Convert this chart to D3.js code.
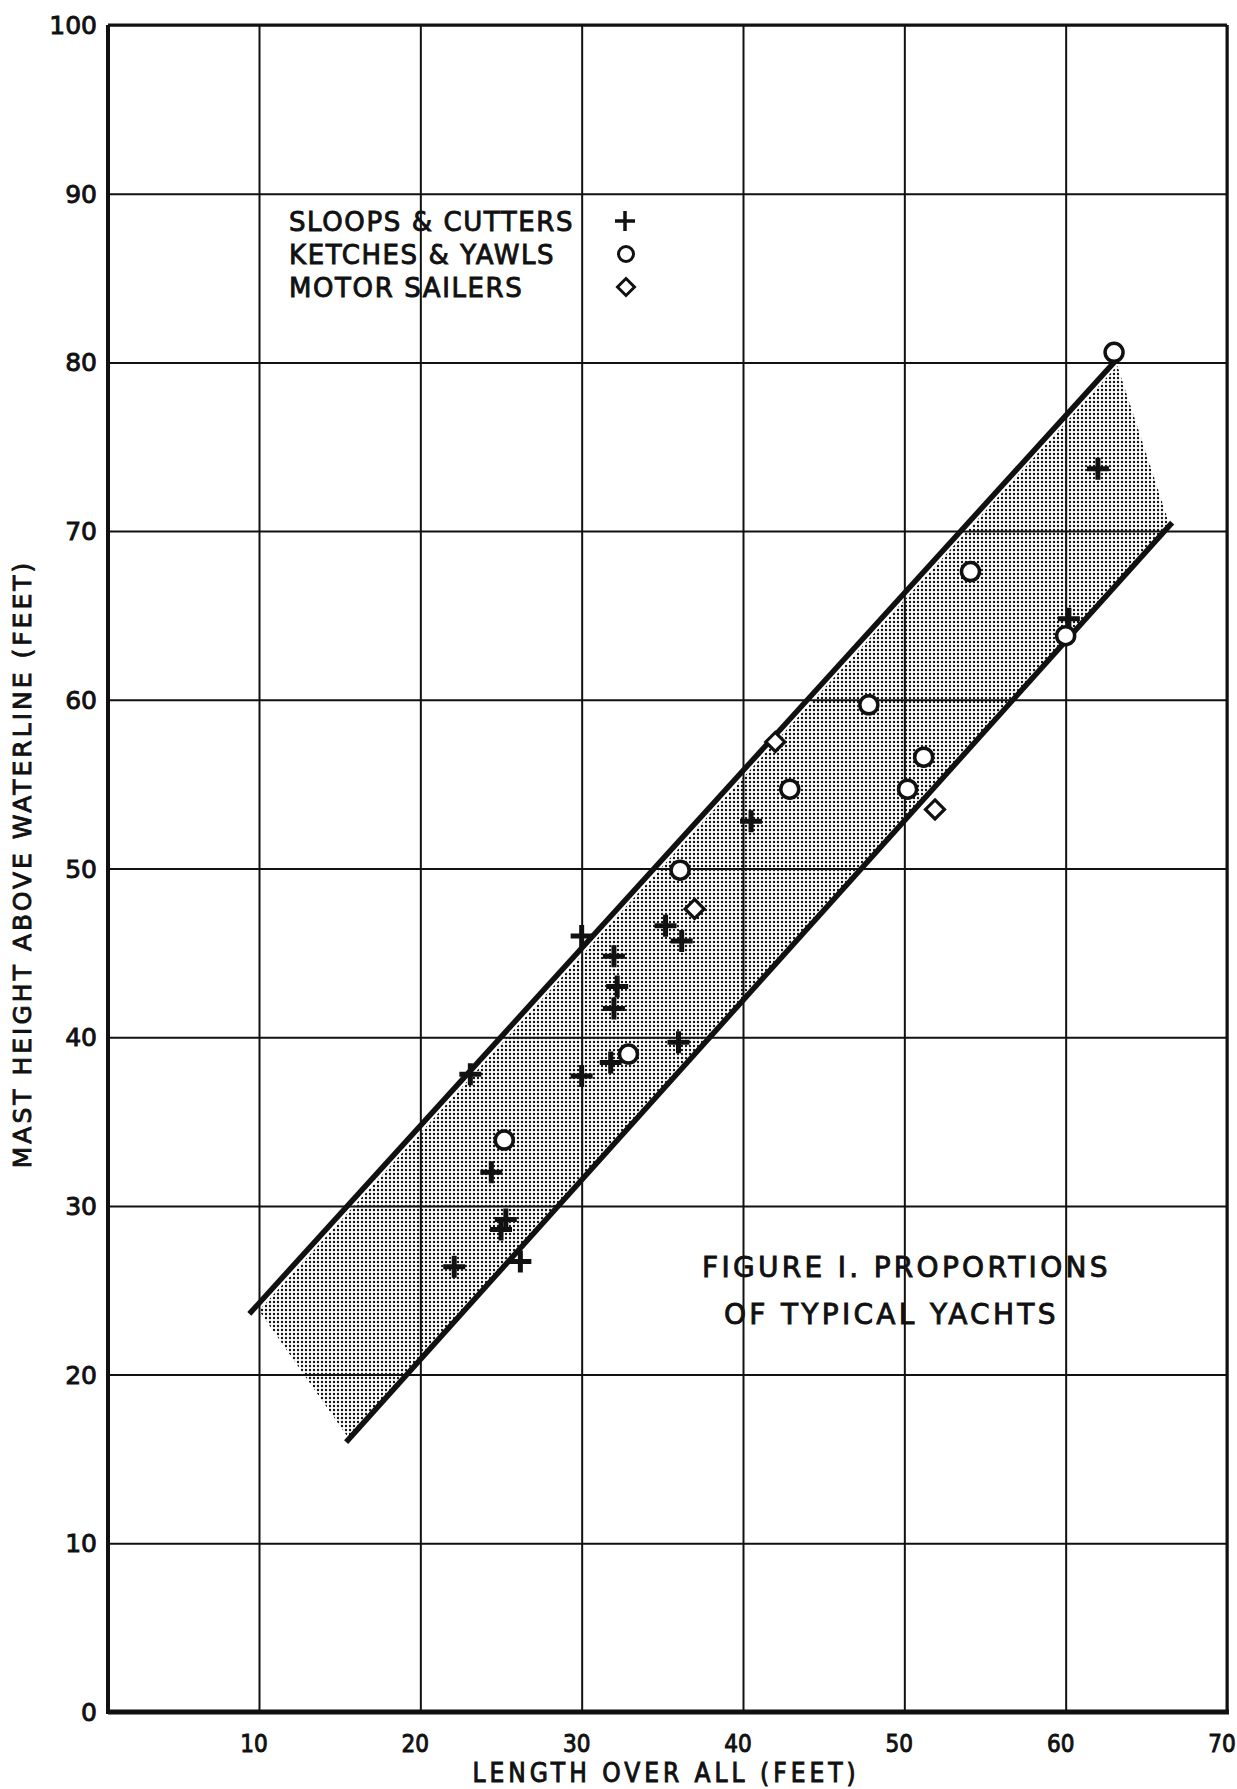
<!DOCTYPE html>
<html>
<head>
<meta charset="utf-8">
<script src="https://cdn.jsdelivr.net/npm/d3@7"></script>
<style>
  html, body { margin: 0; padding: 0; background: #fff; }
  text { font-family: "DejaVu Sans", sans-serif; fill: #111; stroke: #111; stroke-width: 0.9px; }
</style>
</head>
<body>
<div id="chart"></div>
<script>
// values: [length over all, mast height] in feet
const sloops = [
  [23.1, 37.8], [24.4, 32.0], [25.0, 28.6], [25.3, 29.2], [22.1, 26.4],
  [26.2, 26.7], [30.0, 46.0], [30.0, 37.7], [32.0, 44.8], [32.2, 43.0],
  [32.0, 41.7], [31.8, 38.5], [35.2, 46.6], [36.2, 45.7], [36.0, 39.7],
  [40.5, 52.8], [60.2, 64.8], [62.0, 73.7]
];
const ketches = [
  [25.2, 33.9], [32.9, 39.0], [36.1, 49.9], [42.9, 54.7], [47.8, 59.7],
  [50.2, 54.7], [51.2, 56.6], [54.1, 67.6], [60.0, 63.8], [63.0, 80.6]
];
const motorSailers = [[37.0, 47.6], [42.0, 57.5], [51.9, 53.5]];

// the two limit lines of the band and the stippled area between them
const upperLine = [[9.4, 23.6], [63.0, 80.0]];
const lowerLine = [[15.4, 16.0], [66.6, 70.5]];
const shadedArea = [[10.0, 23.8], [63.2, 79.8], [66.4, 70.5], [15.5, 16.3]];

const xTicks = [10, 20, 30, 40, 50, 60, 70];
const yTicks = [0, 10, 20, 30, 40, 50, 60, 70, 80, 90, 100];

const legendItems = ['SLOOPS & CUTTERS', 'KETCHES & YAWLS', 'MOTOR SAILERS'];
const titleLines = ['FIGURE I. PROPORTIONS', 'OF TYPICAL YACHTS'];

const W = 1237, H = 1789;
const m = {left: 108, right: 1227, top: 25, bottom: 1712};

const x = d3.scaleLinear().domain([0.64, 70]).range([m.left, m.right]);
const y = d3.scaleLinear().domain([0, 100]).range([m.bottom, m.top]);

const svg = d3.select('#chart').append('svg')
  .attr('width', W).attr('height', H)
  .style('display', 'block');

svg.append('rect').attr('width', W).attr('height', H).attr('fill', '#fff');

// stipple for the shaded band
const defs = svg.append('defs');
const pat = defs.append('pattern')
  .attr('id', 'stipple').attr('patternUnits', 'userSpaceOnUse')
  .attr('width', 4).attr('height', 4);
pat.append('circle').attr('cx', 2).attr('cy', 2).attr('r', 1.2).attr('fill', '#111');

// grid lines
const xGrid = svg.append('g')
  .attr('transform', `translate(0,${m.bottom})`)
  .call(d3.axisBottom(x).tickValues(xTicks).tickSize(-(m.bottom - m.top)).tickFormat(''));
xGrid.select('.domain').remove();
xGrid.selectAll('line').attr('stroke', '#111').attr('stroke-width', 2);

const yGrid = svg.append('g')
  .attr('transform', `translate(${m.left},0)`)
  .call(d3.axisLeft(y).tickValues(yTicks).tickSize(-(m.right - m.left)).tickFormat(''));
yGrid.select('.domain').remove();
yGrid.selectAll('line').attr('stroke', '#111').attr('stroke-width', 2);

// shaded band
svg.append('path')
  .datum(shadedArea)
  .attr('d', d3.line().x(d => x(d[0])).y(d => y(d[1])).curve(d3.curveLinearClosed))
  .attr('fill', 'url(#stipple)');

// band edges
[upperLine, lowerLine].forEach(l => {
  svg.append('path')
    .datum(l)
    .attr('d', d3.line().x(d => x(d[0])).y(d => y(d[1])))
    .attr('stroke', '#111').attr('stroke-width', 5.5).attr('fill', 'none');
});

// frame
svg.append('line').attr('x1', m.left).attr('x2', m.right).attr('y1', m.top).attr('y2', m.top)
  .attr('stroke', '#111').attr('stroke-width', 3);
svg.append('line').attr('x1', m.right).attr('x2', m.right).attr('y1', m.top).attr('y2', m.bottom)
  .attr('stroke', '#111').attr('stroke-width', 3);
svg.append('line').attr('x1', m.left).attr('x2', m.left).attr('y1', m.top).attr('y2', m.bottom + 2)
  .attr('stroke', '#111').attr('stroke-width', 4);
svg.append('line').attr('x1', m.left).attr('x2', m.right + 2).attr('y1', m.bottom).attr('y2', m.bottom)
  .attr('stroke', '#111').attr('stroke-width', 5);

// tick labels
svg.append('g').selectAll('text')
  .data(yTicks).join('text')
  .attr('x', 97).attr('y', d => y(d) + 9)
  .attr('text-anchor', 'end')
  .attr('font-size', 25)
  .text(d => d);

svg.append('g').selectAll('text')
  .data(xTicks).join('text')
  .attr('x', d => x(d) - 5).attr('y', 1752)
  .attr('text-anchor', 'middle')
  .attr('font-size', 24)
  .style('font-family', '"DejaVu Sans Condensed", "DejaVu Sans", sans-serif')
  .text(d => d);

// axis titles
svg.append('text')
  .attr('x', 666).attr('y', 1782)
  .attr('text-anchor', 'middle')
  .attr('font-size', 26)
  .attr('letter-spacing', 4)
  .style('font-family', '"DejaVu Sans Condensed", "DejaVu Sans", sans-serif')
  .text('LENGTH OVER ALL (FEET)');

svg.append('text')
  .attr('transform', `translate(31,864) rotate(-90)`)
  .attr('text-anchor', 'middle')
  .attr('font-size', 25)
  .attr('letter-spacing', 3)
  .text('MAST HEIGHT ABOVE WATERLINE (FEET)');

// markers
const crossPath = s => `M${-s},0H${s}M0,${-s}V${s}`;
const diamondPath = s => `M0,${-s}L${s},0L0,${s}L${-s},0Z`;

svg.append('g').selectAll('path')
  .data(sloops).join('path')
  .attr('transform', d => `translate(${x(d[0])},${y(d[1])})`)
  .attr('d', crossPath(11))
  .attr('stroke', '#111').attr('stroke-width', 5).attr('fill', 'none');

svg.append('g').selectAll('circle')
  .data(ketches).join('circle')
  .attr('cx', d => x(d[0])).attr('cy', d => y(d[1]))
  .attr('r', 9)
  .attr('fill', '#fff').attr('stroke', '#111').attr('stroke-width', 3.5);

svg.append('g').selectAll('path')
  .data(motorSailers).join('path')
  .attr('transform', d => `translate(${x(d[0])},${y(d[1])})`)
  .attr('d', diamondPath(9.5))
  .attr('fill', '#fff').attr('stroke', '#111').attr('stroke-width', 3.2);

// legend
const legend = svg.append('g');
legend.selectAll('text')
  .data(legendItems).join('text')
  .attr('x', 289).attr('y', (d, i) => 231 + i * 33)
  .attr('font-size', 26)
  .attr('letter-spacing', 1.6)
  .text(d => d);
legend.append('path')
  .attr('transform', 'translate(625,221)')
  .attr('d', crossPath(10))
  .attr('stroke', '#111').attr('stroke-width', 3.5).attr('fill', 'none');
legend.append('circle')
  .attr('cx', 626).attr('cy', 254).attr('r', 7.5)
  .attr('fill', '#fff').attr('stroke', '#111').attr('stroke-width', 3);
legend.append('path')
  .attr('transform', 'translate(626,287)')
  .attr('d', diamondPath(8.5))
  .attr('fill', '#fff').attr('stroke', '#111').attr('stroke-width', 3);

// figure caption
svg.append('g').selectAll('text')
  .data(titleLines).join('text')
  .attr('x', (d, i) => i === 0 ? 702 : 724)
  .attr('y', (d, i) => 1277 + i * 47)
  .attr('font-size', 28)
  .attr('letter-spacing', 3.3)
  .text(d => d);
</script>
</body>
</html>
